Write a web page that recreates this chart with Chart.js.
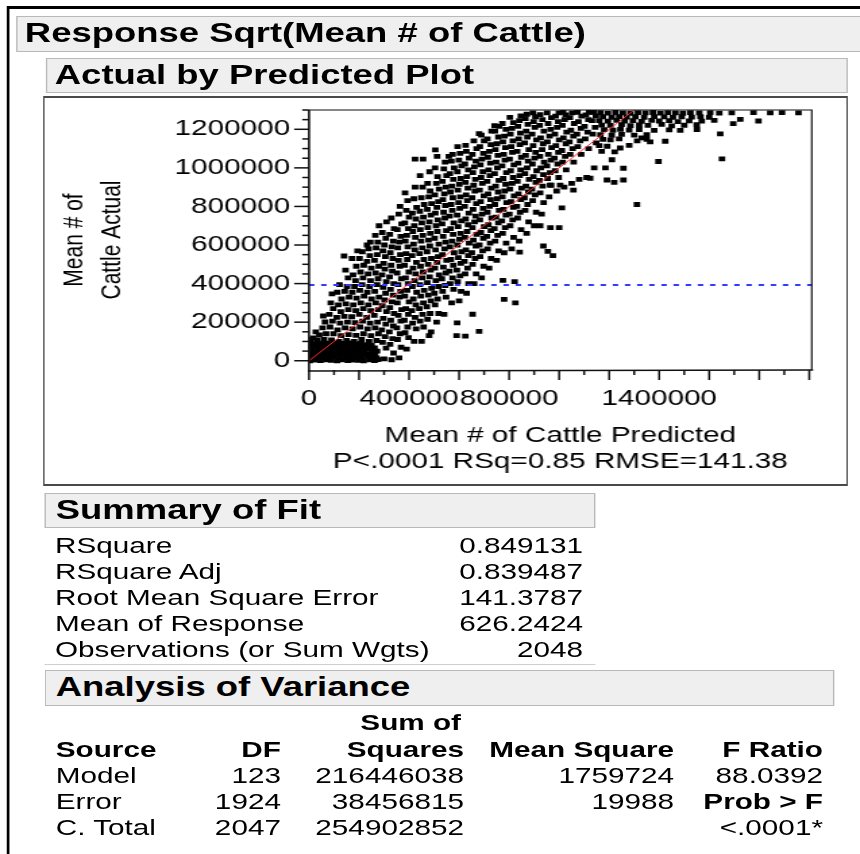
<!DOCTYPE html>
<html>
<head>
<meta charset="utf-8">
<script src="https://cdn.jsdelivr.net/npm/chart.js@4.4.0/dist/chart.umd.min.js"></script>
<style>
  html, body { margin: 0; padding: 0; background: #fff; }
  body { width: 860px; height: 854px; overflow: hidden; position: relative; }
  /* the JMP report is rendered wide: lay out at 1/1.35 and stretch */
  #page { position: absolute; left: 0; top: 0; width: 637px; height: 854px;
          transform: scaleX(1.35); transform-origin: 0 0;
          font-family: "Liberation Sans", Arial, sans-serif; color: #000; }
  .edge { position: absolute; background: #000; }
  .bar { position: absolute; box-sizing: border-box; background: #efefef;
         border: 1.5px solid #b9b9b9; font-weight: bold; font-size: 27px; white-space: nowrap; }
  .bar span { position: absolute; top: 0; }
  .plotbox { position: absolute; box-sizing: border-box; border-style: solid; border-color: #4a4a4a;
             border-width: 2px 1.5px; }
  .txt { position: absolute; white-space: nowrap; font-size: 22px; line-height: 26px; }
  .r { text-align: right; }
  .b { font-weight: bold; }
  #avp { position: absolute; left: 33px; top: 97px; }
</style>
</head>
<body>
<div id="page">
  <div class="edge" style="left:5.5px;top:6px;width:640px;height:3px"></div>
  <div class="edge" style="left:5.3px;top:6px;width:2.2px;height:860px"></div>

  <div class="bar" style="left:11.9px;top:16px;width:640px;height:36px"><span style="left:5.5px;line-height:33px">Response Sqrt(Mean # of Cattle)</span></div>
  <div class="bar" style="left:34.1px;top:58px;width:594px;height:35px"><span style="left:5.5px;line-height:32px">Actual by Predicted Plot</span></div>
  <div class="plotbox" style="left:31.9px;top:95.5px;width:596.3px;height:390px"></div>
  <canvas id="avp" width="593" height="386"></canvas>

  <div class="bar" style="left:33.3px;top:493px;width:407.4px;height:35px"><span style="left:7px;line-height:32px">Summary of Fit</span></div>
  <div class="edge" style="left:33.3px;top:664px;width:407.4px;height:1px;background:#cfcfcf"></div>
  <div class="bar" style="left:33.3px;top:670px;width:585.2px;height:36px"><span style="left:7px;line-height:33px">Analysis of Variance</span></div>
  <div id="tables"></div>
</div>

<script>
// values in thousands: [predicted, actual]
const lowBlock = [
  [3,0],[24,3],[46,1],[69,4],[89,2],[112,0],[132,5],[155,1],[175,3],[198,2],[218,0],[241,4],[262,1],[276,6],
  [12,18],[35,21],[57,17],[79,20],[100,22],[122,16],[144,19],[165,21],[187,18],[208,20],[230,23],[251,17],[270,15],
  [5,36],[27,39],[48,35],[70,38],[91,40],[113,34],[134,37],[156,39],[177,36],[199,38],[220,41],[242,35],[264,33],
  [14,54],[36,57],[58,53],[80,56],[101,58],[123,52],[145,55],[166,57],[188,54],[209,56],[231,59],[252,52],[272,50],
  [4,72],[26,75],[49,71],[71,74],[92,76],[114,70],[135,73],[157,75],[178,72],[200,74],[221,77],[243,70],[262,66],
  [13,89],[34,92],[56,88],[78,91],[99,93],[121,87],[142,90],[164,92],[186,86],[207,90],[229,84],[250,80]
];

const risingBand = [
  [6,110],[17,118],
  [33,108],[41,134],[27,150],
  [60,110],[68,140],[54,170],[64,201],[57,232],
  [90,108],[98,140],[84,175],[94,205],[81,240],[97,270],[87,300],[92,347],
  [120,100],[128,130],[114,160],[124,195],[111,225],[127,255],[117,290],[130,320],[113,355],[122,395],
  [150,105],[158,135],[144,170],[154,200],[141,230],[157,265],[147,295],[160,330],[143,360],[152,385],[156,430],[146,470],[140,543],
  [180,100],[188,132],[174,165],[184,198],[171,228],[187,260],[177,290],[190,325],[173,355],[182,385],[186,415],[176,445],[189,490],[172,530],[194,570],
  [210,110],[218,140],[204,175],[214,205],[201,240],[217,270],[207,300],[220,335],[203,365],[212,395],[216,430],[206,460],[219,495],[202,530],[213,565],[232,600],
  [240,100],[248,130],[234,165],[244,195],[231,225],[247,260],[237,290],[250,320],[233,355],[242,385],[246,415],[236,450],[249,480],[232,515],[243,545],[238,580],[245,615],
  [270,105],[278,140],[264,170],[274,200],[261,235],[277,265],[267,300],[280,330],[263,360],[272,395],[276,425],[266,455],[279,490],[262,520],[273,550],[268,585],[275,615],[265,650],[280,700],
  [300,10],[308,65],[294,95],[304,125],[291,160],[307,190],[297,220],[310,255],[293,285],[302,315],[306,350],[296,380],[309,410],[292,445],[303,475],[298,505],[305,540],[295,570],[301,600],[307,635],[293,665],[310,720],
  [330,5],[338,40],[324,85],[334,115],[321,150],[337,180],[327,210],[340,245],[323,275],[332,305],[336,340],[326,370],[339,400],[322,435],[333,465],[328,495],[335,530],[325,560],[331,590],[337,620],[323,655],[340,685],[329,740],
  [360,15],[368,70],[354,110],[364,140],[351,170],[367,205],[357,235],[370,265],[353,300],[362,330],[366,360],[356,395],[369,425],[352,455],[363,490],[358,520],[365,550],[355,585],[361,615],[367,645],[353,680],[370,710],[359,760],[364,800],
  [390,60],[398,120],[384,145],[394,175],[381,210],[397,240],[387,270],[400,305],[383,335],[392,365],[396,400],[386,430],[399,460],[382,495],[393,525],[388,555],[395,590],[385,620],[391,650],[397,685],[383,715],[400,745],[389,780],[394,830],[384,870],
  [420,100],[428,165],[414,195],[424,225],[411,260],[427,290],[417,320],[430,355],[413,385],[422,415],[426,450],[416,480],[429,510],[412,545],[423,575],[418,605],[425,640],[415,670],[421,700],[427,735],[413,765],[430,795],[419,840],[424,900],[424,1045],
  [450,100],[458,175],[444,205],[454,240],[441,270],[457,300],[447,335],[460,365],[443,395],[452,430],[456,460],[446,490],[459,525],[442,555],[453,585],[448,620],[455,650],[445,680],[451,715],[457,745],[443,775],[460,810],[449,845],[454,900],[444,960],[456,1045],
  [480,130],[488,150],[474,215],[484,245],[471,280],[487,310],[477,340],[490,375],[473,405],[482,435],[486,470],[476,500],[489,530],[472,565],[483,595],[478,625],[485,660],[475,690],[481,720],[487,755],[473,785],[490,815],[479,850],[484,880],[474,920],[482,980],
  [510,200],[518,245],[504,290],[514,320],[501,350],[517,385],[507,415],[520,445],[503,480],[512,510],[516,540],[506,575],[519,605],[502,635],[513,670],[508,700],[515,730],[505,765],[511,795],[517,825],[503,860],[520,890],[509,920],[514,955],[504,1000],[512,1060],[505,1093],
  [540,240],[548,330],[534,360],[544,390],[531,425],[547,455],[537,485],[550,520],[533,550],[542,580],[546,615],[536,645],[549,675],[532,710],[543,740],[538,770],[545,805],[535,835],[541,865],[547,900],[533,930],[550,960],[539,995],[544,1030],
  [570,300],[578,370],[564,400],[574,430],[561,465],[577,495],[567,525],[580,560],[563,590],[572,620],[576,655],[566,685],[579,715],[562,750],[573,780],[568,810],[575,845],[565,875],[571,905],[577,940],[563,970],[580,1000],[569,1035],[574,1070],
  [600,310],[608,360],[594,410],[604,440],[591,470],[607,505],[597,535],[610,565],[593,600],[602,630],[606,660],[596,695],[609,725],[592,755],[603,790],[598,820],[605,850],[595,885],[601,915],[607,945],[593,980],[610,1010],[599,1040],[604,1075],[594,1110],
  [630,350],[638,400],[624,450],[634,480],[621,515],[637,545],[627,575],[640,610],[623,640],[632,670],[636,705],[626,735],[639,765],[622,800],[633,830],[628,860],[635,895],[625,925],[631,955],[637,990],[623,1020],[640,1050],[629,1085],[626,1117],
  [660,400],[668,450],[654,500],[664,530],[651,560],[667,595],[657,625],[670,655],[653,690],[662,720],[666,750],[656,785],[669,815],[652,845],[663,880],[658,910],[665,940],[655,975],[661,1005],[667,1035],[653,1070],[670,1100],[659,1140],[680,1178],
  [690,430],[698,490],[684,540],[694,570],[681,600],[697,635],[687,665],[700,695],[683,730],[692,760],[696,790],[686,825],[699,855],[682,885],[693,920],[688,950],[695,980],[685,1015],[691,1045],[697,1075],[683,1110],[700,1140],[689,1170],
  [720,480],[728,530],[714,580],[724,610],[711,645],[727,675],[717,705],[730,740],[713,770],[722,800],[726,835],[716,865],[729,895],[712,930],[723,960],[718,990],[725,1025],[715,1055],[721,1085],[727,1120],[713,1150],[730,1190],[742,1219],
  [750,520],[758,570],[744,620],[754,650],[741,685],[757,715],[747,745],[760,780],[743,810],[752,840],[756,875],[746,905],[759,935],[742,970],[753,1000],[748,1030],[755,1065],[745,1095],[751,1125],[757,1160],[743,1190],[760,1215],
  [780,560],[788,610],[774,660],[784,690],[771,725],[787,755],[777,785],[790,820],[773,850],[782,880],[786,915],[776,945],[789,975],[772,1010],[783,1040],[778,1070],[785,1105],[775,1135],[781,1165],[787,1200],[773,1230],
  [810,580],[818,640],[804,700],[814,730],[801,760],[817,795],[807,825],[820,855],[803,890],[812,920],[816,950],[806,985],[819,1015],[802,1045],[813,1080],[808,1110],[815,1140],[805,1175],[811,1205],[817,1235],[803,1262],
  [840,620],[848,680],[834,740],[844,770],[831,800],[847,835],[837,865],[850,895],[833,930],[842,960],[846,990],[836,1025],[849,1055],[832,1085],[843,1120],[838,1150],[845,1180],[835,1215],[841,1245],[847,1270],
  [870,660],[878,720],[864,780],[874,810],[861,845],[877,875],[867,905],[880,940],[863,970],[872,1000],[876,1035],[866,1065],[879,1095],[862,1130],[873,1160],[868,1190],[875,1225],[865,1255],[871,1278],
  [900,700],[908,770],[894,830],[904,860],[891,890],[907,925],[897,955],[910,985],[893,1020],[902,1050],[906,1080],[896,1115],[909,1145],[892,1175],[903,1210],[898,1240],[905,1265],[895,1285],
  [930,760],[938,820],[924,870],[934,905],[921,935],[937,965],[927,1000],[940,1030],[923,1060],[932,1095],[936,1125],[926,1155],[939,1190],[922,1220],[933,1250],[924,1276],
  [960,850],[968,910],[954,945],[964,975],[951,1010],[967,1040],[957,1070],[970,1105],[953,1135],[962,1165],[966,1200],[956,1230],[969,1260],[952,1285],
  [990,880],[998,950],[984,985],[994,1020],[981,1050],[997,1080],[987,1115],[1000,1145],[983,1175],[992,1210],[996,1240],[986,1268],[999,1285],
  [1020,900],[1028,990],[1014,1030],[1024,1060],[1011,1090],[1027,1125],[1017,1155],[1030,1185],[1013,1220],[1022,1250],[1026,1275],[1016,1288],
  [1050,920],[1058,1030],[1044,1070],[1054,1100],[1041,1135],[1057,1165],[1047,1195],[1060,1230],[1043,1260],[1052,1285],
  [1080,940],[1088,1070],[1074,1110],[1084,1140],[1071,1175],[1087,1205],[1077,1240],[1090,1268],[1073,1288],
  [1110,950],[1118,1100],[1104,1150],[1114,1185],[1101,1215],[1117,1250],[1107,1275],[1120,1288],
  [1140,1000],[1148,1130],[1134,1175],[1144,1210],[1131,1245],[1147,1270],[1137,1288]
];

const topPlateau = [
  [1165,1286],[1195,1284],[1225,1287],[1255,1285],[1285,1283],[1315,1286],[1345,1285],[1375,1287],[1405,1284],[1435,1286],
  [1465,1285],[1495,1283],[1525,1286],[1560,1285],[1604,1286],[1640,1284],[1690,1285],[1777,1286],[1844,1285],[1891,1286],[1957,1285],
  [1175,1265],[1210,1262],[1240,1266],[1270,1263],[1305,1265],[1340,1262],[1380,1266],[1420,1264],[1455,1262],[1490,1265],[1530,1263],[1565,1266],[1600,1262],
  [1160,1245],[1195,1242],[1230,1246],[1262,1243],[1295,1245],[1330,1241],[1370,1246],[1400,1243],[1440,1245],[1475,1240],[1520,1244],[1570,1242],[1620,1246],[1724,1251],[1797,1243],
  [1170,1222],[1205,1220],[1250,1224],[1285,1219],[1320,1223],[1355,1220],[1410,1225],[1450,1218],[1500,1221],[1550,1224],[1696,1229],
  [1180,1198],[1215,1195],[1245,1200],[1280,1196],[1320,1199],[1380,1194],[1440,1197],[1484,1194],[1551,1199],
  [1165,1172],[1210,1169],[1250,1174],[1300,1170],[1350,1172],[1644,1176],
  [1175,1148],[1205,1145],[1240,1150],[1312,1140],[1330,1155],[1350,1148],[1364,1135],[1424,1138],
  [1160,1115],[1192,1112],[1244,1103],[1280,1117],
  [1170,1085],[1222,1083]
];

const strayPoints = [
  [1211,1042],[1185,1000],[1257,998],[1397,1033],[1651,1047],[1124,946],[1191,937],[1257,937],[1220,925],
  [590,130],[625,128],[680,152],[592,196],[654,241],[780,318],[825,300],[775,417],[822,410],[842,563],
  [937,595],[955,567],[975,545],[924,700],[965,690],[1000,690],[964,911],[1004,911],[1057,885],[1011,793],[1311,810],
  [559,1060]
];

const fitLine = [[0, 0], [1300, 1300]];          // actual = predicted
const meanLine = [[0, 392.2], [2010, 392.2]];    // mean of response
const xTickLabels = [0, 400000, 800000, 1400000];
const yTickLabels = [0, 200000, 400000, 600000, 800000, 1000000, 1200000];
const xTickValues = [0, 100000, 200000, 300000, 400000, 500000, 600000, 700000, 800000, 900000, 1000000,
  1100000, 1200000, 1300000, 1400000, 1500000, 1600000, 1700000, 1800000, 1900000, 2000000];
const yTickValues = [0, 50000, 100000, 150000, 200000, 250000, 300000, 350000, 400000, 450000, 500000, 550000,
  600000, 650000, 700000, 750000, 800000, 850000, 900000, 950000, 1000000, 1050000, 1100000, 1150000, 1200000,
  1250000, 1300000];

const summaryLabels = ['RSquare', 'RSquare Adj', 'Root Mean Square Error', 'Mean of Response', 'Observations (or Sum Wgts)'];
const summaryValues = ['0.849131', '0.839487', '141.3787', '626.2424', '2048'];

const anovaSource = ['Model', 'Error', 'C. Total'];
const anovaDF = ['123', '1924', '2047'];
const anovaSS = ['216446038', '38456815', '254902852'];
const anovaMS = ['1759724', '19988', ''];
const anovaF = ['88.0392', 'Prob > F', '<.0001*'];

// ---- report text ----
const tables = document.getElementById('tables');
function put(text, opts) {
  const d = document.createElement('div');
  d.className = 'txt' + (opts.right != null ? ' r' : '') + (opts.bold ? ' b' : '');
  d.textContent = text;
  d.style.top = (opts.y - 13) + 'px';
  if (opts.right != null) d.style.right = opts.right + 'px';
  else d.style.left = opts.left + 'px';
  tables.appendChild(d);
}
const sumRowY = [546, 572, 598, 624, 650];
summaryLabels.forEach((t, i) => {
  put(t, { left: 40.7, y: sumRowY[i] });
  put(summaryValues[i], { right: 205.1, y: sumRowY[i] });
});

// right edges of anova columns (distance from page right)
const colDF = 428.9, colSS = 293.3, colMS = 137.7, colF = 27.4;
put('Sum of', { right: 295.5, y: 723, bold: true });
put('Source', { left: 41.3, y: 750, bold: true });
put('DF', { right: colDF, y: 750, bold: true });
put('Squares', { right: colSS, y: 750, bold: true });
put('Mean Square', { right: colMS, y: 750, bold: true });
put('F Ratio', { right: colF, y: 750, bold: true });
const anovaRowY = [776, 802, 828];
anovaSource.forEach((s, i) => {
  const y = anovaRowY[i];
  put(s, { left: 41.3, y: y });
  put(anovaDF[i], { right: colDF, y: y });
  put(anovaSS[i], { right: colSS, y: y });
  if (anovaMS[i]) put(anovaMS[i], { right: colMS, y: y });
  put(anovaF[i], { right: colF, y: y, bold: anovaF[i] === 'Prob > F' });
});

// ---- chart ----
Chart.defaults.font.family = '"Liberation Sans", Arial, sans-serif';
Chart.defaults.color = '#000';

const toXY = arr => arr.map(p => ({ x: p[0] * 1000, y: p[1] * 1000 }));
const observations = toXY([].concat(lowBlock, risingBand, topPlateau, strayPoints));

// frame + JMP style ticks (long at labelled steps, short in between)
const jmpAxes = {
  id: 'jmpAxes',
  afterDraw(chart) {
    const { ctx, chartArea: a, scales: { x, y } } = chart;
    ctx.save();
    ctx.strokeStyle = '#111';
    ctx.lineWidth = 1.2;
    ctx.beginPath();
    ctx.moveTo(a.left, a.top); ctx.lineTo(a.right, a.top); ctx.lineTo(a.right, a.bottom);
    ctx.stroke();
    ctx.lineWidth = 1.6;
    ctx.beginPath();
    ctx.moveTo(a.left, a.top); ctx.lineTo(a.left, a.bottom + 1); ctx.lineTo(a.right + 1, a.bottom);
    ctx.stroke();
    ctx.lineWidth = 1.5;
    x.ticks.forEach(t => {
      const px = x.getPixelForValue(t.value);
      const len = t.value % 200000 === 0 ? 10 : 5;
      ctx.beginPath(); ctx.moveTo(px, a.bottom); ctx.lineTo(px, a.bottom + len); ctx.stroke();
    });
    y.ticks.forEach(t => {
      const py = y.getPixelForValue(t.value);
      const len = t.value % 200000 === 0 ? 11 : 5;
      ctx.beginPath(); ctx.moveTo(a.left, py); ctx.lineTo(a.left - len, py); ctx.stroke();
    });
    ctx.restore();
  }
};

new Chart(document.getElementById('avp').getContext('2d'), {
  type: 'scatter',
  data: {
    datasets: [
      { data: toXY(fitLine), showLine: true, borderColor: '#ff2b2b', borderWidth: 1, pointRadius: 0, order: 0 },
      { data: toXY(meanLine), showLine: true, borderColor: '#2f3cff', borderWidth: 2, borderDash: [4, 5], pointRadius: 0, order: 0 },
      { data: observations, pointStyle: 'rect', pointRadius: 3.4, backgroundColor: '#000', borderWidth: 0, order: 1 }
    ]
  },
  options: {
    responsive: false,
    animation: false,
    events: [],
    layout: { padding: { left: 0, right: 24.7, top: 13, bottom: 0 } },
    plugins: { legend: { display: false }, tooltip: { enabled: false } },
    scales: {
      x: {
        type: 'linear', min: 0, max: 2010000,
        afterBuildTicks: s => { s.ticks = xTickValues.map(v => ({ value: v })); },
        afterFit: s => { s.height = 113; s.paddingLeft = 0; s.paddingRight = 0; },
        grid: { display: false, drawTicks: false },
        border: { display: false },
        ticks: {
          autoSkip: false, maxRotation: 0, minRotation: 0, padding: 15.8, font: { size: 22 },
          callback: v => xTickLabels.includes(v) ? String(v) : ''
        },
        title: {
          display: true, text: ['Mean # of Cattle Predicted', 'P<.0001 RSq=0.85 RMSE=141.38'],
          font: { size: 22, lineHeight: 1.2 }, padding: { top: 0, bottom: 7.8 }
        }
      },
      y: {
        type: 'linear', min: -48000, max: 1300000,
        afterBuildTicks: s => { s.ticks = yTickValues.map(v => ({ value: v })); },
        afterFit: s => { s.width = 195.9; s.paddingTop = 0; s.paddingBottom = 0; },
        grid: { display: false, drawTicks: false },
        border: { display: false },
        ticks: {
          autoSkip: false, padding: 14, font: { size: 22 },
          callback: v => yTickLabels.includes(v) ? String(v) : ''
        },
        title: {
          display: true, text: ['Mean # of', 'Cattle Actual'],
          font: { size: 21, lineHeight: 1.3 }, padding: { top: 9, bottom: 0 }
        }
      }
    }
  },
  plugins: [jmpAxes]
});
</script>
</body>
</html>
